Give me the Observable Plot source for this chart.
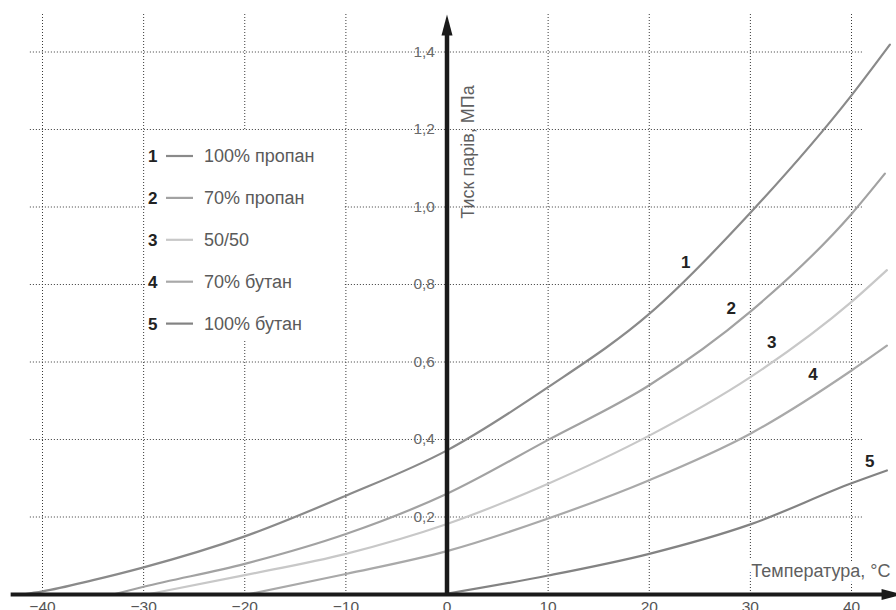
<!DOCTYPE html>
<html>
<head>
<meta charset="utf-8">
<script src="https://cdn.jsdelivr.net/npm/d3@7"></script>
<script src="https://cdn.jsdelivr.net/npm/@observablehq/plot@0.6"></script>
<style>
  html, body { margin: 0; padding: 0; background: #fff; }
  #chart svg { display: block; }
</style>
</head>
<body>
<div id="chart"></div>
<script>
// ---- data ----
const seriesIds = ["1", "2", "3", "4", "5"];
const seriesNames = ["100% пропан", "70% пропан", "50/50", "70% бутан", "100% бутан"];
const seriesColors = ["#8a8a8a", "#a2a2a2", "#c8c8c8", "#a9a9a9", "#838383"];

const temps1 = [-42, -40, -35, -30, -20, -10, 0, 10, 20, 30, 40, 43.8];
const press1 = [0, 0.008, 0.037, 0.070, 0.150, 0.255, 0.372, 0.535, 0.724, 0.985, 1.288, 1.419];
const temps2 = [-33, -30, -20, -10, 0, 10, 20, 30, 40, 43.3];
const press2 = [0, 0.020, 0.079, 0.156, 0.260, 0.399, 0.540, 0.730, 0.982, 1.086];
const temps3 = [-29.7, -20, -10, 0, 10, 20, 30, 40, 43.5];
const press3 = [0, 0.050, 0.105, 0.182, 0.286, 0.410, 0.561, 0.755, 0.837];
const temps4 = [-19.8, -10, 0, 10, 20, 30, 40, 43.5];
const press4 = [0, 0.053, 0.112, 0.196, 0.295, 0.415, 0.578, 0.642];
const temps5 = [-0.5, 10, 20, 30, 40, 43.5];
const press5 = [0, 0.049, 0.105, 0.181, 0.287, 0.320];

const labelTemps = [23.6, 28.1, 32.1, 36.2, 41.8];
const labelPress = [0.857, 0.737, 0.651, 0.568, 0.344];

const xTicks = [-40, -30, -20, -10, 0, 10, 20, 30, 40];
const xTickLabels = ["−40", "−30", "−20", "−10", "0", "10", "20", "30", "40"];
const yTicks = [0.2, 0.4, 0.6, 0.8, 1.0, 1.2, 1.4];
const yTickLabels = ["0,2", "0,4", "0,6", "0,8", "1,0", "1,2", "1,4"];

const xTitle = "Температура, °C";
const yTitle = "Тиск парів, МПа";

// ---- build tables ----
const temps = [temps1, temps2, temps3, temps4, temps5];
const press = [press1, press2, press3, press4, press5];
const rows = seriesIds.flatMap((id, i) => temps[i].map((t, j) => ({id, t, p: press[i][j]})));
const labelRows = seriesIds.map((id, i) => ({id, t: labelTemps[i], p: labelPress[i]}));

const font = "'Liberation Sans', Arial, Helvetica, sans-serif";
const axisColor = "#1a1a1a";

// arrow head symbol: tip pointing up, origin at base centre
const arrowHead = {
  draw(ctx) {
    ctx.moveTo(0, -21);
    ctx.lineTo(5.5, 0);
    ctx.lineTo(-5.5, 0);
    ctx.closePath();
  }
};

const plot = Plot.plot({
  width: 896,
  height: 610,
  style: {fontFamily: font, background: "#fff"},
  x: {domain: [-40, 40], range: [42, 851], axis: null},
  y: {domain: [0, 1.4], range: [594, 51.5], axis: null},
  color: {domain: seriesIds, range: seriesColors},
  marks: [
    // grid
    Plot.ruleX(xTicks.filter(d => d !== 0), {x: d => d, y1: 0, y2: 1.497, stroke: "#3a3a3a", strokeWidth: 1, strokeDasharray: "1,2"}),
    Plot.ruleY(yTicks, {y: d => d, x1: -41.2, x2: 41.2, stroke: "#3a3a3a", strokeWidth: 1, strokeDasharray: "1,2"}),
    // tick labels
    Plot.text(yTicks, {x: 0, y: d => d, text: (d, i) => yTickLabels[i], textAnchor: "end", lineAnchor: "middle", dx: -12, fontSize: 15.5, fill: "#6a6a6a"}),
    Plot.text(xTicks, {x: d => d, y: 0, text: (d, i) => xTickLabels[i], lineAnchor: "top", dy: 6, fontSize: 15.5, fill: "#555"}),
    // curves
    Plot.line(rows, {x: "t", y: "p", z: "id", stroke: "id", strokeWidth: 2.2, curve: "monotone-x"}),
    Plot.text(labelRows, {x: "t", y: "p", text: "id", fontSize: 17, fontWeight: "bold", fill: "#222"}),
    // axis titles
    Plot.text([xTitle], {x: 43.86, y: 0.044, text: d => d, textAnchor: "end", lineAnchor: "bottom", fontSize: 18, fill: "#5f5f5f", stroke: "#fff", strokeWidth: 10}),
    Plot.text([yTitle], {x: 2.13, y: 1.314, text: d => d, rotate: -90, textAnchor: "end", lineAnchor: "middle", fontSize: 18, fill: "#5f5f5f"}),
    // axes
    Plot.ruleY([0], {y: d => d, x1: -43.1, x2: 43.3, stroke: axisColor, strokeWidth: 4}),
    Plot.ruleX([0], {x: d => d, y1: -0.004, y2: 1.45, stroke: axisColor, strokeWidth: 4.5}),
    Plot.dot([0], {x: 42.97, y: d => d, symbol: arrowHead, r: 5, fill: axisColor, stroke: null, rotate: 90}),
    Plot.dot([0], {x: d => d, y: 1.4426, symbol: arrowHead, r: 5, fill: axisColor, stroke: null})
  ]
});

document.getElementById("chart").appendChild(plot);

// ---- legend (inside plot area, white box masking grid) ----
const svg = d3.select(plot);
const lg = svg.append("g").attr("font-family", font).attr("text-anchor", "start");
lg.append("rect").attr("x", 145).attr("y", 130).attr("width", 199).attr("height", 210).attr("fill", "#fff");
seriesIds.forEach((id, i) => {
  const cy = 156 + i * 41.9;
  lg.append("text").attr("x", 148).attr("y", cy).attr("dy", "0.35em").attr("text-anchor", "start")
    .attr("font-size", 17).attr("font-weight", "bold").attr("fill", "#222").text(id);
  lg.append("line").attr("x1", 166).attr("x2", 193).attr("y1", cy).attr("y2", cy)
    .attr("stroke", seriesColors[i]).attr("stroke-width", 2.2);
  lg.append("text").attr("x", 204).attr("y", cy).attr("dy", "0.35em").attr("text-anchor", "start")
    .attr("font-size", 18).attr("fill", "#5a5a5a").text(seriesNames[i]);
});
</script>
</body>
</html>
